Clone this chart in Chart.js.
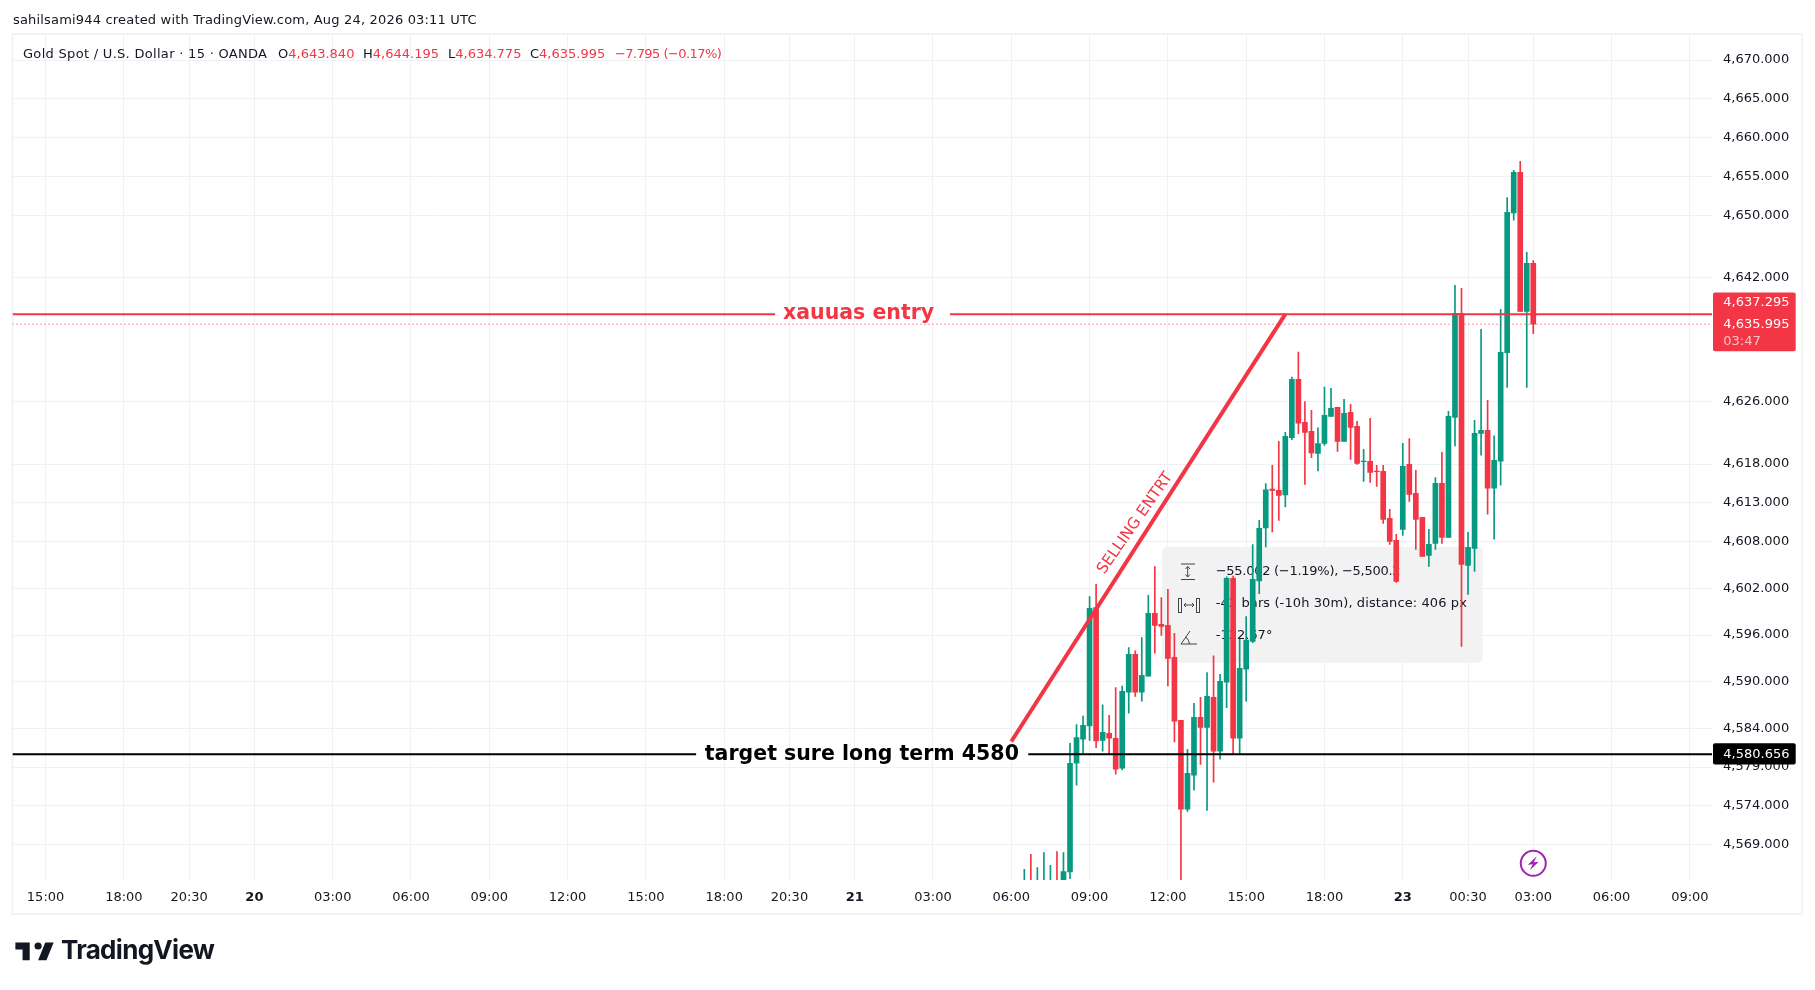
<!DOCTYPE html>
<html>
<head>
<meta charset="utf-8">
<title>Gold Spot / U.S. Dollar</title>
<script src="https://cdn.jsdelivr.net/npm/chart.js@4/dist/chart.umd.min.js"></script>
<style>
  html, body { margin: 0; padding: 0; background: #fff; }
  body { width: 1815px; height: 990px; overflow: hidden; position: relative; font-family: "DejaVu Sans", sans-serif; color: #131722; }
  canvas { position: absolute; left: 0; top: 0; }
  .t { position: absolute; font-size: 13px; line-height: 16px; white-space: nowrap; }
  .r { color: #f23645; }
  #brand { position: absolute; left: 61px; top: 934px; font: 700 26px Inter, sans-serif; letter-spacing: -0.7px; color: #131722; }
  #logo { position: absolute; left: 13px; top: 935px; }
</style>
</head>
<body>
<canvas id="chart" width="1815" height="990"></canvas>
<div class="t" style="left:13px;top:12px;letter-spacing:0.18px">sahilsami944 created with TradingView.com, Aug 24, 2026 03:11 UTC</div>
<div class="t" style="left:23px;top:46px;letter-spacing:0.3px">Gold Spot / U.S. Dollar · 15 · OANDA</div>
<div class="t" style="left:278px;top:46px">O<span class="r">4,643.840</span></div>
<div class="t" style="left:363px;top:46px">H<span class="r">4,644.195</span></div>
<div class="t" style="left:448px;top:46px">L<span class="r">4,634.775</span></div>
<div class="t" style="left:530px;top:46px">C<span class="r">4,635.995</span></div>
<div class="t r" style="left:615px;top:46px;letter-spacing:-0.55px">−7.795 (−0.17%)</div>
<svg id="logo" width="43" height="34" viewBox="0 0 36 28"><path fill="#131722" d="M14 6H2v6h6v9h6V6zm14 15h-7l6-15h7l-6 15zm-7-9a3 3 0 1 0 0-6 3 3 0 0 0 0 6z"/></svg>
<div id="brand">TradingView</div>
<script>
// 15 minute candles, bar number counted back from the last bar (0)
const barNo = [-78,-77,-76,-75,-74,-73,-72,-71,-70,-69,-68,-67,-66,-65,-64,-63,-62,-61,-60,-59,-58,-57,-56,-55,-54,-53,-52,-51,-50,-49,-48,-47,-46,-45,-44,-43,-42,-41,-40,-39,-38,-37,-36,-35,-34,-33,-32,-31,-30,-29,-28,-27,-26,-25,-24,-23,-22,-21,-20,-19,-18,-17,-16,-15,-14,-13,-12,-11,-10,-9,-8,-7,-6,-5,-4,-3,-2,-1,0];
const opens = [4562.5,4563,4562.5,4562.5,4562.5,4563,4562,4565.51,4579.49,4582.58,4584.30,4599.53,4582.45,4583.35,4582.71,4578.85,4588.63,4593.52,4588.63,4590.69,4598.80,4597.38,4597.25,4593.13,4585.03,4573.57,4577.95,4585.41,4584.12,4587.99,4581.04,4589.92,4603.30,4582.71,4591.59,4595.19,4602.95,4609.77,4614.79,4614.62,4614.02,4621.40,4628.90,4623.37,4622.21,4619.38,4620.67,4624.14,4625.30,4620.93,4624.66,4622.86,4618.31,4618.35,4617.11,4617.06,4611.02,4608.18,4609.60,4617.97,4614.23,4611.14,4606.25,4607.80,4615.52,4608.57,4624.01,4637.41,4604.97,4607.15,4621.96,4622.35,4614.89,4618.36,4632.34,4650.32,4655.55,4637.66,4643.84];
const highs = [4565.85,4567.78,4566.06,4567.99,4566.36,4568.12,4567.99,4582.07,4584.47,4585.58,4600.94,4602.53,4587.00,4585.67,4589.23,4589.44,4594.38,4593.95,4595.66,4601.11,4604.80,4600.81,4601.89,4596.22,4585.03,4581.29,4587.21,4587.99,4591.16,4593.31,4590.95,4603.50,4603.60,4595.45,4598.37,4607.63,4610.76,4615.48,4617.84,4620.93,4622.08,4629.21,4632.40,4626.03,4624.92,4622.68,4627.92,4627.75,4625.30,4626.33,4625.69,4623.50,4619.90,4623.89,4617.84,4617.84,4612.17,4608.96,4620.67,4621.27,4617.19,4611.14,4609.60,4616.25,4619.51,4624.79,4641.01,4640.62,4609.21,4623.63,4635.35,4626.21,4621.62,4637.92,4652.29,4655.81,4656.97,4645.26,4644.195];
const lows = [4562,4562,4562,4562,4562,4562,4561.5,4564.65,4576.66,4580.78,4582.45,4581.51,4581.04,4580.65,4578.08,4578.63,4585.93,4588.11,4587.47,4590.69,4593.65,4595.96,4589.44,4582.24,4564,4573.31,4576.02,4579.36,4573.44,4577.05,4580.01,4586.66,4580.65,4580.78,4587.47,4595.00,4601.32,4607.33,4609.26,4610.76,4612.47,4621.14,4621.91,4615.39,4618.82,4617.11,4620.41,4624.14,4619.64,4620.93,4618.61,4617.97,4615.78,4615.65,4615.13,4610.37,4607.67,4602.78,4608.83,4613.20,4607.03,4606.13,4604.84,4607.03,4607.80,4608.57,4620.33,4594.54,4601.23,4604.19,4619.13,4611.54,4608.32,4615.27,4627.88,4649.38,4637.66,4627.88,4634.775];
const closes = [4563,4562.5,4563,4563,4563,4562.5,4565.55,4579.49,4582.79,4584.38,4599.44,4582.37,4583.48,4582.71,4578.72,4588.76,4593.52,4588.63,4590.82,4598.80,4597.25,4597.12,4593.00,4584.90,4573.57,4578.20,4585.41,4584.12,4588.11,4581.04,4590.04,4603.30,4582.71,4591.72,4595.36,4603.17,4609.73,4614.70,4614.62,4613.98,4621.57,4628.90,4623.28,4622.08,4619.42,4620.63,4624.27,4625.17,4620.93,4624.53,4622.73,4618.09,4618.39,4616.94,4617.02,4610.89,4608.06,4602.91,4617.71,4614.10,4610.89,4606.13,4607.67,4615.52,4608.57,4624.14,4637.41,4605.10,4607.28,4621.95,4622.35,4614.89,4618.49,4632.39,4650.40,4655.55,4637.66,4643.84,4635.995];

const priceTicks = [4670,4665,4660,4655,4650,4642,4626,4618,4613,4608,4602,4596,4590,4584,4579,4574,4569];
const timeBars = [-228,-216,-206,-196,-184,-172,-160,-148,-136,-124,-114,-104,-92,-80,-68,-56,-44,-32,-20,-10,0,12,24];
const timeLabels = ['15:00','18:00','20:30','20','03:00','06:00','09:00','12:00','15:00','18:00','20:30','21','03:00','06:00','09:00','12:00','15:00','18:00','23','00:30','03:00','06:00','09:00'];

// drawings
const entryPrice = 4637.295;
const lastPrice = 4635.995;
const targetPrice = 4580.656;
const trendBars = [-80, -38];
const trendPrices = [4582.293, 4637.295];

const GREEN = '#089981', RED = '#f23645', INK = '#131722', GRID = '#f0f1f4';
const FONT = '"DejaVu Sans", sans-serif';
const X_MIN = -233.07, X_MAX = 27.39;
const Y_MIN = 4564.47, Y_MAX = 4673.35;
const ENTRY_GAP = [-116.2, -89.4];   // line breaks around its text
const TARGET_GAP = [-128.3, -77.4];

const candleColors = barNo.map((_, i) => closes[i] >= opens[i] ? GREEN : RED);

function hLine(price, gap) {
  if (!gap) return [{ x: X_MIN, y: price }, { x: X_MAX, y: price }];
  return [{ x: X_MIN, y: price }, { x: gap[0], y: price }, { x: gap[0], y: null },
          { x: gap[1], y: null }, { x: gap[1], y: price }, { x: X_MAX, y: price }];
}

// pane outline and the grey measure box, both sit under the candles
const underlay = {
  id: 'underlay',
  beforeDraw(chart) {
    const c = chart.ctx;
    c.save();
    c.strokeStyle = '#f3f3f3';
    c.lineWidth = 2;
    c.strokeRect(12.5, 34, 1789.5, 880);
    c.restore();
  },
  beforeDatasetsDraw(chart) {
    const c = chart.ctx;
    c.save();
    c.fillStyle = '#f2f2f2';
    c.beginPath();
    c.roundRect(1162.3, 546.7, 320.4, 116, 5);
    c.fill();

    c.fillStyle = INK;
    c.font = '13px ' + FONT;
    c.textBaseline = 'middle';
    c.letterSpacing = '-0.27px';
    c.fillText('−55.002 (−1.19%), −5,500.2', 1215.7, 572);
    c.letterSpacing = '0.1px';
    c.fillText('-42 bars (-10h 30m), distance: 406 px', 1215.7, 604);
    c.letterSpacing = '0px';
    c.fillText('-122.67°', 1215.7, 636);

    // the three little measure icons
    c.strokeStyle = '#444';
    c.lineWidth = 1;
    c.beginPath();
    c.moveTo(1181, 564); c.lineTo(1195, 564);
    c.moveTo(1181, 579.5); c.lineTo(1195, 579.5);
    c.moveTo(1187.7, 566.5); c.lineTo(1187.7, 577);
    c.moveTo(1185.5, 569); c.lineTo(1187.7, 566.5); c.lineTo(1190, 569);
    c.moveTo(1185.5, 574.5); c.lineTo(1187.7, 577); c.lineTo(1190, 574.5);
    c.stroke();
    c.strokeRect(1178.5, 598.5, 3, 14);
    c.strokeRect(1196.5, 598.5, 3, 14);
    c.beginPath();
    c.moveTo(1184, 605); c.lineTo(1194, 605);
    c.moveTo(1186, 603); c.lineTo(1184, 605); c.lineTo(1186, 607);
    c.moveTo(1192, 603); c.lineTo(1194, 605); c.lineTo(1192, 607);
    c.stroke();
    c.beginPath();
    c.moveTo(1190, 631); c.lineTo(1181, 644); c.lineTo(1197, 644);
    c.moveTo(1186, 637); c.quadraticCurveTo(1189, 640, 1189.5, 644);
    c.stroke();
    c.restore();
  }
};

// texts tied to the drawings, price axis boxes, session icon
const overlay = {
  id: 'overlay',
  afterDatasetsDraw(chart) {
    const c = chart.ctx, x = chart.scales.x, y = chart.scales.y;
    c.save();
    c.textBaseline = 'middle';
    c.textAlign = 'center';

    c.fillStyle = RED;
    c.font = 'bold 20.5px ' + FONT;
    c.fillText('xauuas entry', x.getPixelForValue(-103.4), y.getPixelForValue(entryPrice));
    c.fillStyle = '#000';
    c.font = 'bold 20.5px ' + FONT;
    c.fillText('target sure long term 4580', x.getPixelForValue(-102.9), y.getPixelForValue(targetPrice));

    c.save();
    c.translate(x.getPixelForValue(-61), y.getPixelForValue(4610.38));
    c.rotate(-55 * Math.PI / 180);
    c.fillStyle = RED;
    c.font = '15.5px ' + FONT;
    c.fillText('SELLING ENTRT', 0, 0);
    c.restore();

    // lightning marker under the last bar
    const mx = x.getPixelForValue(0), my = 863.3;
    c.strokeStyle = '#9c27b0';
    c.lineWidth = 2;
    c.beginPath();
    c.arc(mx, my, 12.5, 0, Math.PI * 2);
    c.stroke();
    c.fillStyle = '#9c27b0';
    c.beginPath();
    c.moveTo(mx + 3.5, my - 7); c.lineTo(mx - 5.5, my + 1.5); c.lineTo(mx - 0.5, my + 1);
    c.lineTo(mx - 3.5, my + 7); c.lineTo(mx + 5.5, my - 1.5); c.lineTo(mx + 0.5, my - 1);
    c.closePath();
    c.fill();
    c.restore();
  },
  afterDraw(chart) {
    const c = chart.ctx, y = chart.scales.y;
    c.save();
    c.textBaseline = 'middle';
    c.textAlign = 'left';
    c.font = '13px ' + FONT;

    c.fillStyle = RED;
    c.beginPath();
    c.roundRect(1713, y.getPixelForValue(entryPrice) - 21.6, 82.7, 58.7, 2);
    c.fill();
    c.fillStyle = '#fff';
    c.fillText('4,637.295', 1723.3, y.getPixelForValue(entryPrice) - 12);
    c.fillText('4,635.995', 1723.3, y.getPixelForValue(lastPrice));
    c.fillStyle = '#ffc2c8';
    c.fillText('03:47', 1723.3, y.getPixelForValue(lastPrice) + 17);

    c.fillStyle = '#000';
    c.beginPath();
    c.roundRect(1713, y.getPixelForValue(targetPrice) - 11, 82.7, 21.3, 2);
    c.fill();
    c.fillStyle = '#fff';
    c.fillText('4,580.656', 1723.3, y.getPixelForValue(targetPrice));
    c.restore();
  }
};

new Chart(document.getElementById('chart'), {
  type: 'bar',
  data: {
    datasets: [
      { type: 'line', data: [{ x: trendBars[0], y: trendPrices[0] }, { x: trendBars[1], y: trendPrices[1] }],
        borderColor: RED, borderWidth: 4, pointRadius: 0, tension: 0, order: 0 },
      { type: 'line', data: hLine(entryPrice, ENTRY_GAP), borderColor: RED, borderWidth: 2, pointRadius: 0, order: 0 },
      { type: 'line', data: hLine(lastPrice), borderColor: RED, borderWidth: 1, borderDash: [1, 3], pointRadius: 0, order: 0 },
      { type: 'line', data: hLine(targetPrice, TARGET_GAP), borderColor: '#000', borderWidth: 2, pointRadius: 0, order: 0 },
      { data: barNo.map((b, i) => ({ x: b, y: [opens[i], closes[i]] })),
        backgroundColor: candleColors, barThickness: 5, grouped: false, order: 1 },
      { data: barNo.map((b, i) => ({ x: b, y: [lows[i], highs[i]] })),
        backgroundColor: candleColors, barThickness: 1, grouped: false, order: 2 }
    ]
  },
  options: {
    responsive: false,
    animation: false,
    events: [],
    layout: { padding: { left: 12.5, right: 13, top: 34, bottom: 76 } },
    plugins: { legend: { display: false }, tooltip: { enabled: false } },
    scales: {
      x: {
        type: 'linear',
        offset: false,
        min: X_MIN,
        max: X_MAX,
        afterBuildTicks: s => { s.ticks = timeBars.map(value => ({ value })); },
        afterFit: s => { s.height = 34; },
        grid: { color: GRID, drawTicks: false, offset: false },
        border: { display: false },
        ticks: {
          autoSkip: false,
          maxRotation: 0,
          padding: 10,
          color: INK,
          font: ctx => ({ family: FONT, size: 13, weight: timeLabels[ctx.index] && !timeLabels[ctx.index].includes(':') ? 'bold' : 'normal' }),
          callback: v => timeLabels[timeBars.indexOf(v)]
        }
      },
      y: {
        position: 'right',
        min: Y_MIN,
        max: Y_MAX,
        afterBuildTicks: s => { s.ticks = priceTicks.map(value => ({ value })); },
        afterFit: s => { s.width = 90; },
        grid: { color: GRID, drawTicks: false },
        border: { display: false },
        ticks: {
          autoSkip: false,
          padding: 11,
          color: INK,
          font: { family: FONT, size: 13 },
          callback: v => v.toLocaleString('en-US', { minimumFractionDigits: 3, maximumFractionDigits: 3 })
        }
      }
    }
  },
  plugins: [underlay, overlay]
});
</script>
</body>
</html>
